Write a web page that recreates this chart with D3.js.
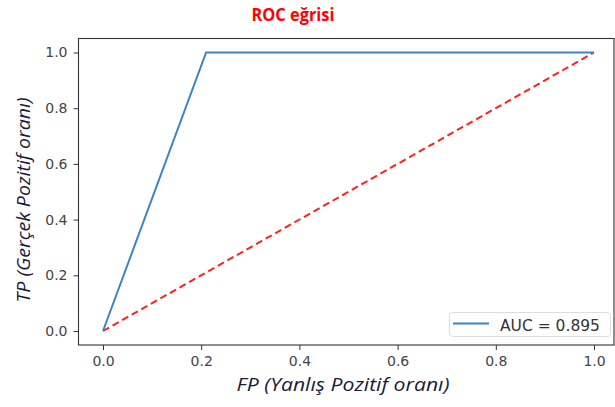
<!DOCTYPE html>
<html><head><meta charset="utf-8">
<script src="https://cdn.jsdelivr.net/npm/d3@7"></script>
<style>body{margin:0;background:#fff}</style>
</head><body><svg id="c" width="615" height="407"></svg>
<script>
const rocFpr = [0.0, 0.21, 1.0];
const rocTpr = [0.0, 1.0, 1.0];
const diagX = [0, 1];
const diagY = [0, 1];
const ticks = [0.0, 0.2, 0.4, 0.6, 0.8, 1.0];
const tickLabels = ["0.0", "0.2", "0.4", "0.6", "0.8", "1.0"];
const aucLabel = "AUC = 0.895";
const titleText = "ROC eğrisi";
const xLabel = "FP (Yanlış Pozitif oranı)";
const yLabel = "TP (Gerçek Pozitif oranı)";

const svg = d3.select("#c");
const x = d3.scaleLinear().domain([0, 1]).range([103, 594]);
const y = d3.scaleLinear().domain([0, 1]).range([331, 52.5]);
const frame = {l: 78.5, r: 614, t: 38.5, b: 345};

svg.append("rect").attr("x", frame.l).attr("y", frame.t)
  .attr("width", frame.r - frame.l).attr("height", frame.b - frame.t)
  .attr("fill", "none").attr("stroke", "#333").attr("stroke-width", 1.1);

const xAxis = d3.axisBottom(x).tickValues(ticks).tickFormat((d, i) => tickLabels[i]).tickSize(5).tickPadding(6);
const gx = svg.append("g").attr("transform", `translate(0,${frame.b})`).call(xAxis);
const yAxis = d3.axisLeft(y).tickValues(ticks).tickFormat((d, i) => tickLabels[i]).tickSize(5).tickPadding(6);
const gy = svg.append("g").attr("transform", `translate(${frame.l},0)`).call(yAxis);
[gx, gy].forEach(g => {
  g.select(".domain").remove();
  g.selectAll("line").attr("stroke", "#333");
  g.selectAll("text").attr("fill", "#444").style("font-family", "DejaVu Sans").style("font-size", "14px");
});

const line = d3.line().x(d => x(d[0])).y(d => y(d[1]));
svg.append("path").datum(diagX.map((v, i) => [v, diagY[i]]))
  .attr("d", line).attr("fill", "none").attr("stroke", "#ff2020")
  .attr("stroke-width", 2).attr("stroke-dasharray", "7,4");
svg.append("path").datum(rocFpr.map((v, i) => [v, rocTpr[i]]))
  .attr("d", line).attr("fill", "none").attr("stroke", "#3a85c6")
  .attr("stroke-width", 2);

// legend
const lg = svg.append("g");
lg.append("rect").attr("x", 449.5).attr("y", 312.5).attr("width", 161).attr("height", 24)
  .attr("rx", 3).attr("fill", "#fff").attr("stroke", "#ddd");
lg.append("line").attr("x1", 453).attr("x2", 489).attr("y1", 323.5).attr("y2", 323.5)
  .attr("stroke", "#3a85c6").attr("stroke-width", 2);
lg.append("text").attr("x", 500).attr("y", 330.5).text(aucLabel)
  .attr("fill", "#333").style("font-family", "DejaVu Sans").style("font-size", "15.5px");

svg.append("text").attr("x", 293).attr("y", 21).attr("text-anchor", "middle")
  .attr("textLength", 83).attr("lengthAdjust", "spacingAndGlyphs")
  .text(titleText).attr("fill", "#ff0000").style("font-family", "Open Sans")
  .style("font-weight", "bold").style("font-size", "17px");

svg.append("text").attr("x", 343).attr("y", 391).attr("text-anchor", "middle")
  .attr("textLength", 213).attr("lengthAdjust", "spacingAndGlyphs")
  .text(xLabel).attr("fill", "#1a1a3a").style("font-family", "Open Sans")
  .style("font-style", "italic").style("font-size", "18px");

svg.append("text").attr("transform", "translate(30,200) rotate(-90)").attr("text-anchor", "middle")
  .attr("textLength", 205).attr("lengthAdjust", "spacingAndGlyphs")
  .text(yLabel).attr("fill", "#1a1a3a").style("font-family", "Open Sans")
  .style("font-style", "italic").style("font-size", "18px");
</script></body></html>
